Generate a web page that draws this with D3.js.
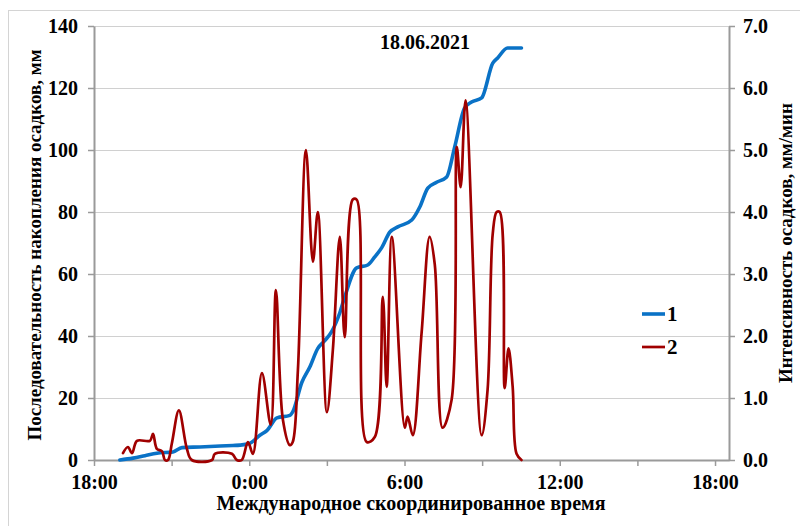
<!DOCTYPE html>
<html>
<head>
<meta charset="utf-8">
<script src="https://cdn.jsdelivr.net/npm/d3@7"></script>
<style>
  html, body { margin: 0; padding: 0; background: #fff; }
  svg { display: block; }
  text { font-family: "Liberation Serif", "Times New Roman", serif; font-weight: bold; fill: #000; }
</style>
</head>
<body>
<svg id="chart" width="800" height="526"></svg>
<script>
// Time axis: hours elapsed since 18:00 UTC, 17.06.2021
const xTicks = [0, 3, 6, 9, 12, 15, 18, 21, 24];
const xTickLabels = { 0: "18:00", 6: "0:00", 12: "6:00", 18: "12:00", 24: "18:00" };
const leftTicks = [0, 20, 40, 60, 80, 100, 120, 140];
const rightTicks = [0, 1, 2, 3, 4, 5, 6, 7];

// Series 1: accumulated precipitation, mm
const accumTime = [1.00, 1.51, 1.97, 2.43, 3.05, 3.40, 4.09, 5.37, 5.64, 6.00, 6.41, 6.68, 7.07, 7.57, 7.68,
  8.03, 8.34, 8.65, 8.92, 9.19, 9.50, 9.69, 10.15, 10.58, 10.85, 11.12, 11.43, 11.74, 12.28, 12.59,
  12.90, 13.24, 13.63, 13.94, 14.32, 14.59, 14.98, 15.41, 15.60, 15.98, 16.52];
const accumValue = [0, 0.6, 1.4, 2.2, 2.6, 4.0, 4.2, 4.7, 4.8, 5.3, 8.0, 9.5, 13.6, 14.4, 15.5,
  25, 30, 36, 38.5, 41.5, 47.5, 52.6, 62, 62.9, 65.5, 68.5, 73.5, 75.2, 77.4, 81.6,
  87.7, 89.6, 91.3, 101, 113.5, 115.5, 116.8, 128, 129.7, 132.9, 132.9];

// Series 2: precipitation intensity, mm/min
const rateTime = [1.12, 1.31, 1.47, 1.66, 2.16, 2.28, 2.43, 2.63, 2.74, 2.86, 3.01, 3.28, 3.59, 3.78,
  4.56, 4.67, 5.33, 5.52, 5.71, 5.95, 6.14, 6.49, 6.83, 7.03, 7.30, 7.57, 7.68, 7.88, 8.19, 8.46,
  8.65, 9.00, 9.23, 9.50, 9.69, 10.00, 10.15, 10.54, 10.85, 11.16, 11.31, 11.51, 12.01, 12.12,
  12.32, 12.66, 12.97, 13.17, 13.47, 13.82, 14.02, 14.17, 14.36, 14.98, 15.21, 15.41, 15.56,
  15.68, 15.87, 16.02, 16.18, 16.33, 16.52];
const rateValue = [0.11, 0.21, 0.11, 0.31, 0.31, 0.42, 0.18, 0.14, 0, 0, 0.27, 0.80, 0.18, 0,
  0, 0.10, 0.10, 0, 0, 0.29, 0.10, 1.40, 0.57, 2.74, 0.65, 0.24, 0.29, 1.45, 5.00, 3.20,
  4.00, 0.77, 1.77, 3.60, 1.98, 4.20, 4.20, 0.29, 0.37, 2.63, 1.18, 3.60, 0.52, 0.70,
  0.40, 2.05, 3.60, 3.15, 0.52, 0.97, 5.05, 4.40, 5.80, 0.40, 1.13, 3.65, 4.00,
  4.00, 1.16, 1.80, 1.18, 0.10, 0];

const titleText = "18.06.2021";
const xTitle = "Международное скоординированное время";
const leftTitle = "Последовательность накопления осадков, мм";
const rightTitle = "Интенсивность осадков, мм/мин";
const seriesNames = ["1", "2"];
const seriesColors = ["#0a72c6", "#a00000"];

const svg = d3.select("#chart");
const plot = { left: 94, right: 729, top: 26, bottom: 460 };

const x = d3.scaleLinear().domain([0, 24.54]).range([plot.left, plot.right]);
const yL = d3.scaleLinear().domain([0, 140]).range([plot.bottom, plot.top]);
const yR = d3.scaleLinear().domain([0, 7]).range([plot.bottom, plot.top]);

// outer frame
svg.append("rect").attr("x", 8.5).attr("y", 10.5).attr("width", 820).attr("height", 560)
  .attr("fill", "none").attr("stroke", "#d4d4d4").attr("stroke-width", 1);

// horizontal gridlines
svg.append("g").selectAll("line").data(leftTicks.slice(1)).join("line")
  .attr("x1", plot.left).attr("x2", plot.right)
  .attr("y1", d => Math.round(yL(d)) + 0.5).attr("y2", d => Math.round(yL(d)) + 0.5)
  .attr("stroke", "#d0d0d0").attr("stroke-width", 1.2);

const axisColor = "#9a9a9a";
function styleAxis(g) {
  g.select(".domain").attr("stroke", axisColor).attr("stroke-width", 2);
  g.selectAll(".tick line").attr("stroke", axisColor).attr("stroke-width", 1.5);
  g.selectAll(".tick text").attr("font-size", 20).attr("font-family", "Liberation Serif")
    .attr("font-weight", "bold").attr("fill", "#000");
}

// left axis
const gL = svg.append("g").attr("transform", `translate(${plot.left},0)`)
  .call(d3.axisLeft(yL).tickValues(leftTicks).tickSize(6).tickSizeOuter(0).tickPadding(10)
    .tickFormat(d3.format("d")));
styleAxis(gL);

// right axis
const gR = svg.append("g").attr("transform", `translate(${plot.right},0)`)
  .call(d3.axisRight(yR).tickValues(rightTicks).tickSize(6).tickSizeOuter(0).tickPadding(8)
    .tickFormat(d3.format(".1f")));
styleAxis(gR);

// bottom axis
const gB = svg.append("g").attr("transform", `translate(0,${plot.bottom})`)
  .call(d3.axisBottom(x).tickValues(xTicks).tickSize(6).tickSizeOuter(0).tickPadding(9)
    .tickFormat(d => xTickLabels[d] || ""));
styleAxis(gB);

// accumulated precipitation line
const accum = accumTime.map((t, i) => [t, accumValue[i]]);
svg.append("path").datum(accum)
  .attr("fill", "none").attr("stroke", seriesColors[0]).attr("stroke-width", 3.6)
  .attr("stroke-linejoin", "round").attr("stroke-linecap", "round")
  .attr("d", d3.line().x(d => x(d[0])).y(d => yL(d[1])).curve(d3.curveMonotoneX));

// intensity line
const rate = rateTime.map((t, i) => [t, rateValue[i]]);
svg.append("path").datum(rate)
  .attr("fill", "none").attr("stroke", seriesColors[1]).attr("stroke-width", 2.7)
  .attr("stroke-linejoin", "round").attr("stroke-linecap", "round")
  .attr("d", d3.line().x(d => x(d[0])).y(d => yR(Math.max(0, d[1]))).curve(d3.curveCatmullRom.alpha(0.5)));

// date title
svg.append("text").attr("x", 425).attr("y", 49).attr("text-anchor", "middle")
  .attr("font-size", 20).text(titleText);

// axis titles
svg.append("text").attr("x", 411).attr("y", 510).attr("text-anchor", "middle")
  .attr("font-size", 20).text(xTitle);
svg.append("text").attr("transform", "translate(41,245) rotate(-90)").attr("text-anchor", "middle")
  .attr("font-size", 19).text(leftTitle);
svg.append("text").attr("transform", "translate(792,243) rotate(-90)").attr("text-anchor", "middle")
  .attr("font-size", 19).text(rightTitle);

// legend
const legend = svg.append("g");
seriesNames.forEach((name, i) => {
  const ly = 314 + i * 33;
  legend.append("line").attr("x1", 642).attr("x2", 665).attr("y1", ly).attr("y2", ly)
    .attr("stroke", seriesColors[i]).attr("stroke-width", i === 0 ? 3.6 : 2.7);
  legend.append("text").attr("x", 667).attr("y", ly + 7).attr("font-size", 21).text(name);
});
</script>
</body>
</html>
